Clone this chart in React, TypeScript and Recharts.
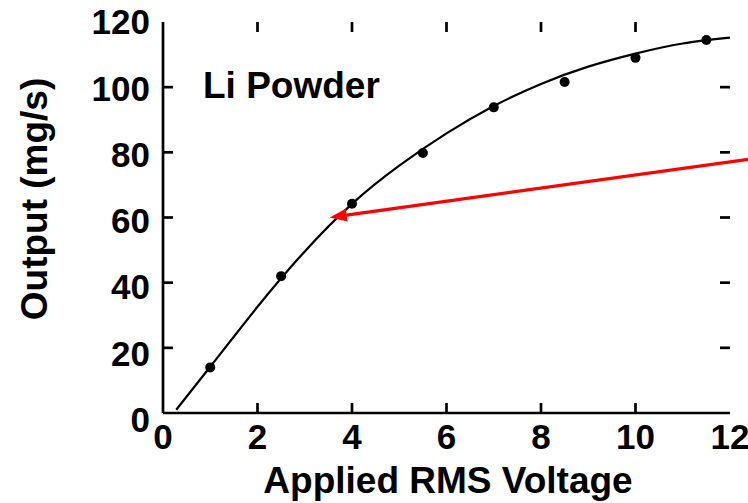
import React from 'react';
import {
  ComposedChart,
  Line,
  Scatter,
  XAxis,
  YAxis,
  ReferenceLine,
  Customized,
} from 'recharts';

// Axis ticks
const voltageTicks = [0, 2, 4, 6, 8, 10, 12];
const outputTicks = [0, 20, 40, 60, 80, 100, 120];
// Inner tick marks on the frame (corners excluded)
const voltageMarks = [2, 4, 6, 8, 10];
const outputMarks = [20, 40, 60, 80, 100];

// Measured Li powder output (mg/s) vs applied RMS voltage
const measuredVoltage = [1, 2.5, 4, 5.5, 7, 8.5, 10, 11.5];
const measuredOutput = [14, 42, 64.2, 79.8, 93.8, 101.6, 109, 114.5];

// Fitted trend curve
const fitVoltage = [0.28, 1, 2, 3, 4, 5, 6, 7, 8, 9, 10, 11, 12];
const fitOutput = [1, 14.2, 32.6, 49.6, 64.2, 75.9, 85.8, 94.2, 101.0, 106.3, 110.3, 113.4, 115.2];

// Call-out arrow: tail (off to the right) and tip (on the curve)
const arrowTail = { x: 12.45, y: 78 };
const arrowTip = { x: 3.53, y: 60 };

const measured = measuredVoltage.map((x, i) => ({ x, y: measuredOutput[i] }));
const fit = fitVoltage.map((x, i) => ({ x, y: fitOutput[i] }));

const FONT = '"Liberation Sans", Arial, Helvetica, sans-serif';
const INK = '#000';
const AXIS_W = 2.7;
const TICK_LEN = 10;

const LeftTick = (props: any) => {
  const v = props.payload.value as number;
  const shift = ((120 - v) / 120) * 6.5;
  return (
    <text
      x={props.x - 13}
      y={props.y + shift}
      dy="0.355em"
      textAnchor="end"
      fontFamily={FONT}
      fontWeight="bold"
      fontSize={35}
      fill={INK}
    >
      {v}
    </text>
  );
};

const BottomTick = (props: any) => (
  <text
    x={props.x}
    y={props.y + 11}
    dy="0.71em"
    textAnchor="middle"
    fontFamily={FONT}
    fontWeight="bold"
    fontSize={35}
    fill={INK}
  >
    {props.payload.value}
  </text>
);

// Short mark starting on the frame at (x1, y1), pointing towards (x2, y2)
const Mark = (props: any) => {
  const { x1, y1, x2, y2 } = props;
  const d = Math.hypot(x2 - x1, y2 - y1) || 1;
  return (
    <line
      x1={x1}
      y1={y1}
      x2={x1 + ((x2 - x1) / d) * TICK_LEN}
      y2={y1 + ((y2 - y1) / d) * TICK_LEN}
      stroke={INK}
      strokeWidth={AXIS_W}
    />
  );
};

const Dot = (props: any) => <circle cx={props.cx} cy={props.cy} r={5} fill={INK} />;

const Arrow = (props: any) => {
  const { x1, y1, x2, y2 } = props;
  // segment[0] is the tail, segment[1] the tip
  const ang = Math.atan2(y2 - y1, x2 - x1);
  const c = Math.cos(ang);
  const s = Math.sin(ang);
  const len = 17;
  const half = 6.5;
  const bx = x2 - len * c;
  const by = y2 - len * s;
  const pts = `${x2},${y2} ${bx + half * s},${by - half * c} ${bx - half * s},${by + half * c}`;
  return (
    <g>
      <line x1={x1} y1={y1} x2={bx + 2 * c} y2={by + 2 * s} stroke="#ff0000" strokeWidth={3.3} />
      <polygon points={pts} fill="#ff0000" />
    </g>
  );
};

const Titles = () => (
  <g fontFamily={FONT} fontWeight="bold" fill={INK}>
    <text x={203} y={98} fontSize={37}>
      Li Powder
    </text>
    <text x={448} y={493} fontSize={37} textAnchor="middle">
      Applied RMS Voltage
    </text>
    <text x={47} y={199} fontSize={37} textAnchor="middle" transform="rotate(-90, 47, 199)">
      Output (mg/s)
    </text>
  </g>
);

const axisLine = { stroke: INK, strokeWidth: AXIS_W };

export default function App() {
  return (
    <div style={{ position: 'absolute', left: 0, top: 0, background: '#fff' }}>
      <ComposedChart
        width={748}
        height={503}
        margin={{ top: 22, right: 18, bottom: 0, left: 0 }}
        style={{ fontFamily: FONT }}
      >
        <XAxis
          dataKey="x"
          type="number"
          domain={[0, 12]}
          ticks={voltageTicks}
          interval={0}
          height={90}
          tickSize={0}
          tickMargin={0}
          tick={<BottomTick />}
          tickLine={false}
          axisLine={axisLine}
        />
        <XAxis
          xAxisId="top"
          orientation="top"
          dataKey="x"
          type="number"
          domain={[0, 12]}
          height={0}
          tick={false}
          tickLine={false}
          axisLine={axisLine}
        />
        <YAxis
          type="number"
          domain={[0, 120]}
          ticks={outputTicks}
          interval={0}
          width={163}
          tickSize={0}
          tickMargin={0}
          tick={<LeftTick />}
          tickLine={false}
          axisLine={axisLine}
        />
        <YAxis
          yAxisId="right"
          orientation="right"
          type="number"
          domain={[0, 120]}
          width={0}
          tick={false}
          tickLine={false}
          axisLine={axisLine}
        />
        {voltageMarks.map((v) => (
          <ReferenceLine
            key={`b${v}`}
            segment={[{ x: v, y: 0 }, { x: v, y: 120 }]}
            ifOverflow="visible"
            shape={<Mark />}
          />
        ))}
        {voltageMarks.map((v) => (
          <ReferenceLine
            key={`t${v}`}
            segment={[{ x: v, y: 120 }, { x: v, y: 0 }]}
            ifOverflow="visible"
            shape={<Mark />}
          />
        ))}
        {outputMarks.map((v) => (
          <ReferenceLine
            key={`l${v}`}
            segment={[{ x: 0, y: v }, { x: 12, y: v }]}
            ifOverflow="visible"
            shape={<Mark />}
          />
        ))}
        {outputMarks.map((v) => (
          <ReferenceLine
            key={`r${v}`}
            segment={[{ x: 12, y: v }, { x: 0, y: v }]}
            ifOverflow="visible"
            shape={<Mark />}
          />
        ))}
        <Line
          data={fit}
          dataKey="y"
          type="natural"
          stroke={INK}
          strokeWidth={2.2}
          dot={false}
          activeDot={false}
          isAnimationActive={false}
        />
        <Scatter data={measured} dataKey="y" fill={INK} shape={<Dot />} isAnimationActive={false} />
        <ReferenceLine segment={[arrowTail, arrowTip]} ifOverflow="visible" shape={<Arrow />} />
        <Customized component={<Titles />} />
      </ComposedChart>
    </div>
  );
}
